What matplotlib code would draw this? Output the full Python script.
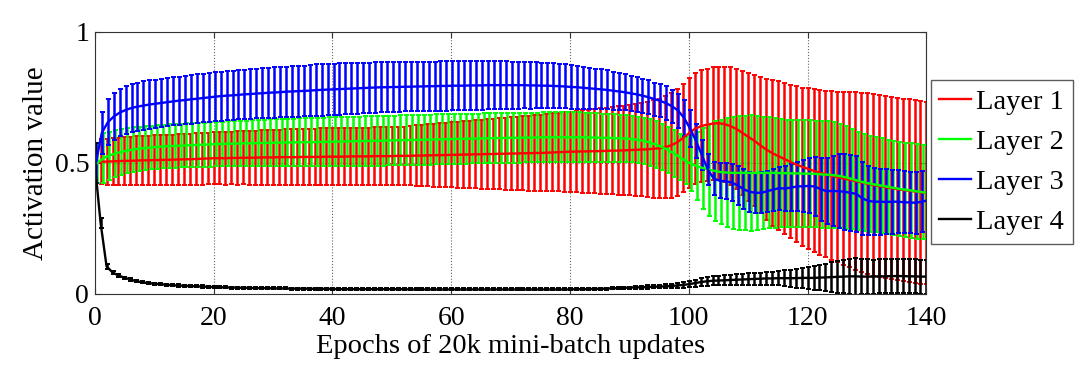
import numpy as np
import matplotlib
matplotlib.use("Agg")
import matplotlib.pyplot as plt
from matplotlib.lines import Line2D

plt.rcParams["font.family"] = ["Liberation Serif", "DejaVu Serif"]

epochs = np.arange(0, 141)
labels = ["Layer 1", "Layer 2", "Layer 3", "Layer 4"]
colors = ["#ff0000", "#00ff00", "#0000ff", "#000000"]

# mean activation per epoch (epoch 0 first, then rows of 10)
l1_mean = [0.500,
    0.505, 0.505, 0.506, 0.507, 0.508, 0.508, 0.509, 0.510, 0.510, 0.511,
    0.511, 0.512, 0.512, 0.513, 0.514, 0.514, 0.515, 0.516, 0.517, 0.518,
    0.518, 0.518, 0.519, 0.519, 0.520, 0.520, 0.520, 0.521, 0.521, 0.521,
    0.522, 0.522, 0.522, 0.522, 0.523, 0.523, 0.523, 0.523, 0.524, 0.524,
    0.524, 0.524, 0.525, 0.525, 0.525, 0.525, 0.526, 0.526, 0.526, 0.526,
    0.527, 0.527, 0.527, 0.528, 0.528, 0.529, 0.529, 0.530, 0.530, 0.531,
    0.531, 0.532, 0.532, 0.533, 0.533, 0.534, 0.534, 0.535, 0.535, 0.536,
    0.536, 0.537, 0.537, 0.538, 0.538, 0.539, 0.540, 0.541, 0.542, 0.543,
    0.543, 0.544, 0.544, 0.545, 0.545, 0.546, 0.547, 0.547, 0.548, 0.549,
    0.550, 0.551, 0.552, 0.554, 0.556, 0.560, 0.567, 0.578, 0.595, 0.613,
    0.630, 0.640, 0.646, 0.650, 0.652, 0.648, 0.641, 0.630, 0.615, 0.600,
    0.585, 0.568, 0.552, 0.538, 0.527, 0.516, 0.505, 0.495, 0.486, 0.478,
    0.470, 0.463, 0.457, 0.451, 0.446, 0.441, 0.436, 0.431, 0.426, 0.421,
    0.416, 0.412, 0.408, 0.404, 0.400, 0.397, 0.394, 0.391, 0.388, 0.385]
l1_std = [0.075,
    0.085, 0.088, 0.089, 0.090, 0.091, 0.092, 0.093, 0.093, 0.094, 0.095,
    0.095, 0.096, 0.096, 0.097, 0.097, 0.098, 0.098, 0.099, 0.099, 0.100,
    0.100, 0.101, 0.101, 0.102, 0.102, 0.103, 0.103, 0.104, 0.104, 0.105,
    0.105, 0.106, 0.106, 0.107, 0.107, 0.108, 0.108, 0.109, 0.109, 0.110,
    0.110, 0.110, 0.110, 0.110, 0.110, 0.110, 0.110, 0.110, 0.110, 0.110,
    0.111, 0.112, 0.113, 0.115, 0.116, 0.118, 0.119, 0.121, 0.122, 0.124,
    0.125, 0.127, 0.128, 0.130, 0.131, 0.133, 0.135, 0.136, 0.138, 0.139,
    0.141, 0.142, 0.144, 0.145, 0.146, 0.148, 0.149, 0.150, 0.152, 0.153,
    0.155, 0.157, 0.159, 0.161, 0.163, 0.165, 0.167, 0.169, 0.171, 0.173,
    0.176, 0.179, 0.182, 0.186, 0.190, 0.195, 0.200, 0.204, 0.207, 0.210,
    0.212, 0.213, 0.214, 0.215, 0.216, 0.220, 0.225, 0.230, 0.237, 0.244,
    0.251, 0.260, 0.270, 0.279, 0.284, 0.289, 0.293, 0.298, 0.302, 0.307,
    0.311, 0.315, 0.318, 0.322, 0.326, 0.330, 0.334, 0.338, 0.341, 0.345,
    0.346, 0.347, 0.347, 0.348, 0.348, 0.348, 0.349, 0.349, 0.349, 0.349]

l2_mean = [0.500,
    0.518, 0.528, 0.536, 0.542, 0.547, 0.551, 0.554, 0.557, 0.559, 0.561,
    0.563, 0.564, 0.565, 0.566, 0.567, 0.568, 0.569, 0.570, 0.571, 0.572,
    0.573, 0.573, 0.574, 0.574, 0.575, 0.575, 0.576, 0.576, 0.577, 0.577,
    0.578, 0.578, 0.578, 0.579, 0.579, 0.579, 0.580, 0.580, 0.581, 0.581,
    0.582, 0.582, 0.583, 0.583, 0.584, 0.584, 0.585, 0.585, 0.586, 0.586,
    0.587, 0.587, 0.588, 0.588, 0.589, 0.589, 0.590, 0.590, 0.591, 0.591,
    0.592, 0.592, 0.593, 0.593, 0.594, 0.594, 0.595, 0.595, 0.596, 0.596,
    0.596, 0.597, 0.597, 0.597, 0.598, 0.598, 0.598, 0.598, 0.598, 0.598,
    0.598, 0.598, 0.597, 0.597, 0.596, 0.596, 0.595, 0.594, 0.593, 0.591,
    0.588, 0.584, 0.578, 0.570, 0.561, 0.550, 0.537, 0.523, 0.508, 0.496,
    0.487, 0.480, 0.474, 0.469, 0.465, 0.463, 0.462, 0.462, 0.462, 0.462,
    0.462, 0.462, 0.462, 0.462, 0.461, 0.461, 0.460, 0.460, 0.459, 0.459,
    0.458, 0.456, 0.455, 0.453, 0.450, 0.445, 0.439, 0.432, 0.426, 0.421,
    0.417, 0.413, 0.409, 0.405, 0.401, 0.398, 0.395, 0.391, 0.388, 0.385]
l2_std = [0.075,
    0.095, 0.092, 0.090, 0.088, 0.086, 0.085, 0.084, 0.083, 0.083, 0.083,
    0.083, 0.083, 0.083, 0.083, 0.084, 0.084, 0.084, 0.084, 0.085, 0.085,
    0.085, 0.086, 0.086, 0.087, 0.087, 0.088, 0.088, 0.089, 0.089, 0.090,
    0.090, 0.090, 0.091, 0.091, 0.091, 0.092, 0.092, 0.092, 0.093, 0.093,
    0.093, 0.093, 0.094, 0.094, 0.094, 0.094, 0.095, 0.095, 0.095, 0.095,
    0.095, 0.095, 0.095, 0.095, 0.095, 0.095, 0.095, 0.095, 0.095, 0.095,
    0.095, 0.095, 0.095, 0.095, 0.095, 0.095, 0.095, 0.095, 0.095, 0.095,
    0.095, 0.095, 0.095, 0.095, 0.095, 0.095, 0.095, 0.095, 0.095, 0.095,
    0.095, 0.094, 0.094, 0.093, 0.092, 0.091, 0.090, 0.089, 0.089, 0.089,
    0.089, 0.089, 0.089, 0.089, 0.089, 0.089, 0.089, 0.089, 0.090, 0.105,
    0.130, 0.155, 0.175, 0.190, 0.200, 0.207, 0.213, 0.217, 0.219, 0.220,
    0.218, 0.215, 0.212, 0.209, 0.206, 0.204, 0.204, 0.204, 0.204, 0.204,
    0.204, 0.204, 0.204, 0.203, 0.200, 0.196, 0.192, 0.188, 0.185, 0.183,
    0.182, 0.181, 0.180, 0.180, 0.180, 0.180, 0.180, 0.180, 0.180, 0.180]

l3_mean = [0.500,
    0.615, 0.655, 0.677, 0.692, 0.702, 0.710, 0.715, 0.719, 0.723, 0.726,
    0.729, 0.732, 0.735, 0.738, 0.740, 0.743, 0.745, 0.748, 0.750, 0.753,
    0.755, 0.757, 0.758, 0.760, 0.762, 0.763, 0.765, 0.766, 0.768, 0.769,
    0.770, 0.772, 0.773, 0.774, 0.775, 0.776, 0.778, 0.779, 0.780, 0.781,
    0.782, 0.783, 0.784, 0.785, 0.786, 0.787, 0.788, 0.789, 0.789, 0.790,
    0.790, 0.791, 0.791, 0.792, 0.792, 0.793, 0.793, 0.794, 0.794, 0.795,
    0.795, 0.795, 0.796, 0.796, 0.796, 0.797, 0.797, 0.797, 0.797, 0.797,
    0.797, 0.797, 0.796, 0.796, 0.795, 0.795, 0.794, 0.793, 0.792, 0.790,
    0.789, 0.787, 0.785, 0.783, 0.781, 0.779, 0.776, 0.773, 0.770, 0.766,
    0.762, 0.757, 0.751, 0.744, 0.737, 0.728, 0.716, 0.700, 0.672, 0.632,
    0.585, 0.530, 0.475, 0.440, 0.432, 0.430, 0.425, 0.415, 0.400, 0.390,
    0.386, 0.386, 0.392, 0.398, 0.404, 0.402, 0.406, 0.410, 0.411, 0.412,
    0.410, 0.400, 0.392, 0.393, 0.392, 0.390, 0.386, 0.382, 0.365, 0.355,
    0.352, 0.352, 0.351, 0.352, 0.352, 0.350, 0.349, 0.348, 0.352, 0.357]
l3_std = [0.075,
    0.081, 0.088, 0.090, 0.091, 0.092, 0.092, 0.092, 0.092, 0.092, 0.092,
    0.092, 0.092, 0.092, 0.092, 0.093, 0.093, 0.093, 0.093, 0.093, 0.093,
    0.093, 0.093, 0.094, 0.094, 0.094, 0.095, 0.095, 0.095, 0.096, 0.096,
    0.096, 0.096, 0.097, 0.097, 0.097, 0.097, 0.098, 0.098, 0.098, 0.098,
    0.098, 0.098, 0.097, 0.097, 0.097, 0.096, 0.096, 0.096, 0.095, 0.095,
    0.095, 0.094, 0.094, 0.094, 0.094, 0.094, 0.094, 0.094, 0.094, 0.094,
    0.094, 0.094, 0.093, 0.093, 0.093, 0.092, 0.092, 0.091, 0.091, 0.090,
    0.090, 0.089, 0.089, 0.088, 0.087, 0.087, 0.086, 0.085, 0.084, 0.083,
    0.082, 0.080, 0.079, 0.077, 0.076, 0.074, 0.072, 0.070, 0.069, 0.067,
    0.066, 0.065, 0.064, 0.063, 0.063, 0.064, 0.064, 0.065, 0.068, 0.072,
    0.065, 0.058, 0.060, 0.064, 0.066, 0.069, 0.072, 0.074, 0.076, 0.077,
    0.077, 0.078, 0.079, 0.080, 0.082, 0.085, 0.090, 0.095, 0.100, 0.105,
    0.112, 0.120, 0.127, 0.135, 0.142, 0.145, 0.146, 0.145, 0.140, 0.132,
    0.128, 0.126, 0.124, 0.122, 0.120, 0.119, 0.118, 0.118, 0.117, 0.117]

l4_mean = [0.500,
    0.270, 0.105, 0.082, 0.070, 0.062, 0.055, 0.048, 0.044, 0.041, 0.039,
    0.037, 0.035, 0.033, 0.032, 0.031, 0.030, 0.029, 0.028, 0.027, 0.026,
    0.025, 0.025, 0.024, 0.024, 0.023, 0.023, 0.022, 0.022, 0.022, 0.021,
    0.021, 0.021, 0.020, 0.020, 0.020, 0.020, 0.019, 0.019, 0.019, 0.019,
    0.018, 0.018, 0.018, 0.018, 0.018, 0.018, 0.018, 0.018, 0.018, 0.018,
    0.018, 0.018, 0.017, 0.017, 0.017, 0.017, 0.017, 0.017, 0.017, 0.017,
    0.017, 0.017, 0.017, 0.017, 0.017, 0.017, 0.017, 0.017, 0.017, 0.017,
    0.017, 0.017, 0.017, 0.017, 0.017, 0.017, 0.017, 0.017, 0.017, 0.017,
    0.018, 0.018, 0.018, 0.019, 0.019, 0.020, 0.021, 0.022, 0.023, 0.024,
    0.025, 0.025, 0.026, 0.027, 0.028, 0.029, 0.030, 0.032, 0.034, 0.037,
    0.041, 0.045, 0.048, 0.050, 0.051, 0.052, 0.053, 0.054, 0.055, 0.056,
    0.057, 0.058, 0.059, 0.059, 0.060, 0.060, 0.060, 0.060, 0.061, 0.061,
    0.061, 0.062, 0.063, 0.064, 0.065, 0.066, 0.067, 0.067, 0.066, 0.066,
    0.066, 0.067, 0.067, 0.068, 0.068, 0.068, 0.067, 0.067, 0.066, 0.066]
l4_std = [0.075,
    0.020, 0.010, 0.005, 0.005, 0.004, 0.004, 0.004, 0.004, 0.004, 0.004,
    0.004, 0.004, 0.004, 0.004, 0.004, 0.004, 0.004, 0.004, 0.004, 0.004,
    0.004, 0.004, 0.004, 0.004, 0.004, 0.004, 0.004, 0.004, 0.004, 0.004,
    0.004, 0.004, 0.004, 0.004, 0.004, 0.004, 0.004, 0.004, 0.004, 0.004,
    0.004, 0.004, 0.004, 0.004, 0.004, 0.004, 0.004, 0.004, 0.004, 0.004,
    0.004, 0.004, 0.004, 0.004, 0.004, 0.004, 0.004, 0.004, 0.004, 0.004,
    0.004, 0.004, 0.004, 0.004, 0.004, 0.004, 0.004, 0.004, 0.004, 0.004,
    0.004, 0.004, 0.004, 0.004, 0.004, 0.004, 0.004, 0.004, 0.004, 0.004,
    0.004, 0.004, 0.004, 0.004, 0.004, 0.004, 0.004, 0.004, 0.004, 0.004,
    0.005, 0.005, 0.006, 0.006, 0.007, 0.007, 0.008, 0.009, 0.010, 0.011,
    0.013, 0.015, 0.017, 0.018, 0.019, 0.020, 0.020, 0.021, 0.021, 0.022,
    0.022, 0.023, 0.024, 0.026, 0.028, 0.030, 0.033, 0.036, 0.039, 0.042,
    0.045, 0.048, 0.052, 0.056, 0.060, 0.064, 0.068, 0.070, 0.068, 0.066,
    0.065, 0.065, 0.065, 0.065, 0.065, 0.065, 0.065, 0.065, 0.065, 0.065]

means = [l1_mean, l2_mean, l3_mean, l4_mean]
stds = [l1_std, l2_std, l3_std, l4_std]
offsets = [0.0, 0.45, 0.2, 0.0]

fig = plt.figure(figsize=(10.76, 3.72), dpi=100)
ax = fig.add_axes([0.088, 0.210, 0.773, 0.704])

for m, s, c, off in zip(means, stds, colors, offsets):
    ax.errorbar(epochs + off, m, yerr=s, color=c, lw=1.7, elinewidth=1.8,
                capsize=1.8, capthick=1.4)

ax.set_xlim(0, 140)
ax.set_ylim(0, 1)
ax.set_xticks(range(0, 141, 20))
ax.set_yticks([0, 0.5, 1])
ax.set_yticklabels(["0", "0.5", "1"])
ax.grid(True, linestyle=":", color="#666666", lw=0.8)
ax.tick_params(direction="in", top=True, right=True, labelsize=20, length=4,
               color="#333333")
ax.tick_params(axis="x", pad=9)
ax.tick_params(axis="y", pad=4)
for sp in ax.spines.values():
    sp.set_color("#333333")
ax.set_xlabel("Epochs of 20k mini-batch updates", fontsize=20.5, labelpad=2)
ax.set_ylabel("Activation value", fontsize=21, labelpad=4)

handles = [Line2D([], [], color=c, lw=1.7) for c in colors]
leg = fig.legend(handles, labels, loc="center left", bbox_to_anchor=(0.865, 0.565),
                 fontsize=20.5, frameon=True, fancybox=False, edgecolor="#333333",
                 handlelength=1.1, handletextpad=0.2, labelspacing=0.5,
                 borderpad=0.3, borderaxespad=0)
leg.get_frame().set_linewidth(1.0)

fig.savefig("out.png", dpi=100)
